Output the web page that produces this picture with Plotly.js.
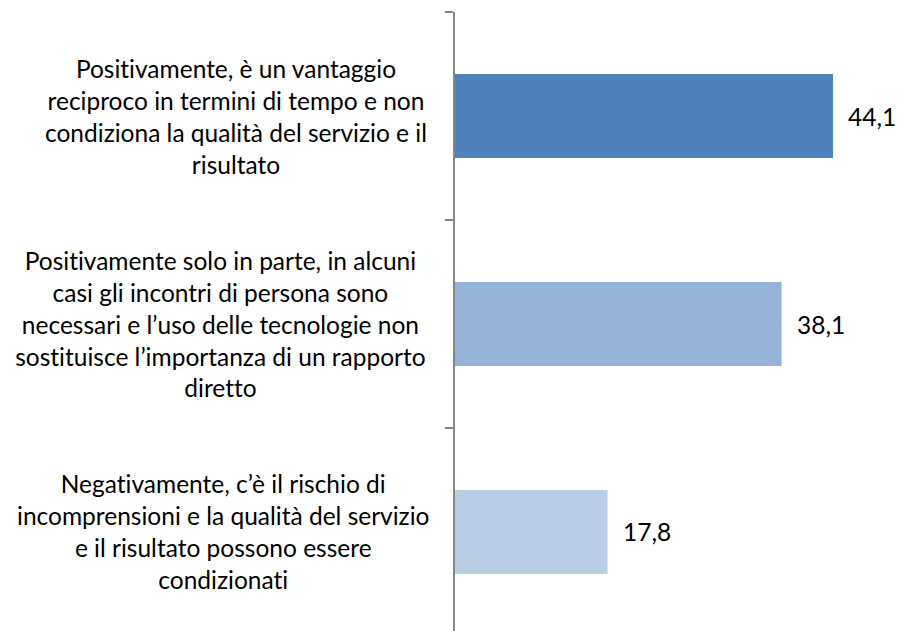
<!DOCTYPE html>
<html>
<head>
<meta charset="utf-8">
<script src="https://cdn.plot.ly/plotly-3.0.1.min.js"></script>
<style>html,body{margin:0;padding:0;background:#fff;}#chart{width:900px;height:631px;}
#chart text{font-variant-ligatures:none;font-feature-settings:"liga" 0;}</style>
</head>
<body>
<div id="chart"></div>
<script>
var categories = [
  "Positivamente, è un vantaggio<br>reciproco in termini di tempo e non<br>condiziona la qualità del servizio e il<br>risultato",
  "Positivamente solo in parte, in alcuni<br>casi gli incontri di persona sono<br>necessari e l’uso delle tecnologie non<br>sostituisce l’importanza di un rapporto<br>diretto",
  "Negativamente, c’è il rischio di<br>incomprensioni e la qualità del servizio<br>e il risultato possono essere<br>condizionati"
];
var values = [44.1, 38.1, 17.8];
var valueLabels = ["44,1", "38,1", "17,8"];
var barColors = ["#4F81BD", "#95B3D7", "#B9CDE5"];

var FONT = "Lato, 'Open Sans', sans-serif";
var yIdx = categories.map(function (_, i) { return i; });
var labelX = [-0.492, -0.526, -0.521];

var trace = {
  type: "bar",
  orientation: "h",
  x: values,
  y: yIdx,
  marker: { color: barColors, line: { width: 0 } },
  hoverinfo: "none"
};

var annotations = [];
categories.forEach(function (c, i) {
  annotations.push({
    xref: "paper", yref: "y",
    x: labelX[i], y: yIdx[i],
    text: c, showarrow: false,
    xanchor: "center", yanchor: "middle", align: "center",
    font: { family: FONT, size: 24.5, color: "#000" }
  });
  annotations.push({
    xref: "x", yref: "y",
    x: values[i], y: yIdx[i],
    text: valueLabels[i], showarrow: false,
    xanchor: "left", yanchor: "middle", xshift: 13,
    font: { family: FONT, size: 24.5, color: "#000" }
  });
});

var layout = {
  width: 900, height: 631,
  margin: { l: 455, r: 0, t: 12, b: 0, pad: 0 },
  paper_bgcolor: "#fff", plot_bgcolor: "#fff",
  showlegend: false,
  bargap: 0.596,
  xaxis: { visible: false, range: [0, 51.92], fixedrange: true },
  yaxis: {
    type: "linear",
    range: [2.476, -0.5],
    showgrid: false, zeroline: false,
    showline: true, linecolor: "#868686", linewidth: 2,
    ticks: "outside", ticklen: 8, tickwidth: 2, tickcolor: "#868686",
    tickvals: [-0.5, 0.5, 1.5, 2.5],
    showticklabels: false
  },
  annotations: annotations
};

Plotly.newPlot("chart", [trace], layout, { displayModeBar: false, staticPlot: true });
</script>
</body>
</html>
